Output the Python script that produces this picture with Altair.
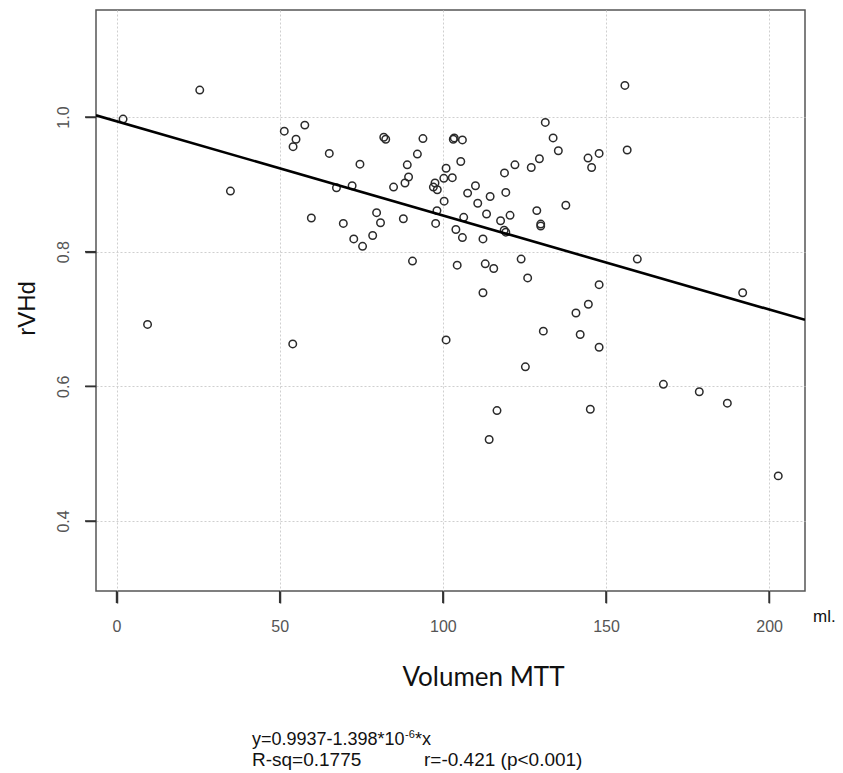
import altair as alt
import pandas as pd

# ---- data ----
vol = [2.0, 25.5, 34.9, 9.5, 51.4, 57.7, 55.0, 54.1, 65.2, 74.6,
       67.4, 72.2, 59.7, 69.5, 79.7, 80.9, 72.7, 75.4, 78.5, 81.9,
       82.5, 84.9, 87.9, 88.4, 89.5, 89.1, 90.7, 93.9, 92.2, 54.0,
       155.8, 131.4, 133.8, 135.4, 129.6, 127.1, 122.1, 118.9, 144.5, 145.6,
       147.9, 156.5, 103.2, 103.5, 106.0, 105.5, 101.0, 100.3, 102.9, 97.6,
       97.1, 98.3, 110.0, 107.6, 110.7, 114.5, 119.3, 100.4, 98.2, 97.8,
       106.4, 113.4, 120.6, 117.7, 118.8, 119.3, 104.0, 106.0, 112.3, 128.8,
       130.0, 130.0, 137.7, 159.6, 191.9, 104.4, 113.0, 115.6, 124.0, 126.0,
       112.3, 147.9, 144.6, 140.8, 130.8, 142.1, 101.0, 147.9, 125.3, 167.6,
       178.6, 187.2, 116.6, 145.2, 114.2, 202.8]
rvhd = [0.997, 1.040, 0.890, 0.692, 0.979, 0.988, 0.967, 0.956, 0.946, 0.930,
        0.895, 0.898, 0.850, 0.842, 0.858, 0.843, 0.819, 0.808, 0.824, 0.970,
        0.967, 0.896, 0.849, 0.902, 0.911, 0.929, 0.786, 0.968, 0.945, 0.663,
        1.047, 0.992, 0.969, 0.950, 0.938, 0.925, 0.929, 0.917, 0.939, 0.925,
        0.946, 0.951, 0.967, 0.969, 0.966, 0.934, 0.924, 0.909, 0.910, 0.902,
        0.896, 0.892, 0.898, 0.887, 0.872, 0.882, 0.888, 0.875, 0.861, 0.842,
        0.851, 0.856, 0.854, 0.846, 0.832, 0.829, 0.833, 0.821, 0.819, 0.861,
        0.841, 0.838, 0.869, 0.789, 0.739, 0.780, 0.782, 0.775, 0.789, 0.761,
        0.739, 0.751, 0.722, 0.709, 0.682, 0.677, 0.669, 0.658, 0.629, 0.603,
        0.592, 0.575, 0.564, 0.566, 0.521, 0.467]

X_DOMAIN = [-6.3, 211.0]
Y_DOMAIN = [0.296, 1.159]
X_TICKS = [0, 50, 100, 150, 200]
Y_TICKS = [0.4, 0.6, 0.8, 1.0]
INTERCEPT = 0.9937
SLOPE = -0.001398

X_TITLE = "Volumen MTT"
Y_TITLE = "rVHd"
UNIT_LABEL = ["ml."]
EQ_MAIN = ["y=0.9937-1.398*10"]
EQ_EXP = ["-6"]
EQ_TAIL = ["*x"]
RSQ_LINE = ["R-sq=0.1775"]
R_LINE = ["r=-0.421 (p<0.001)"]

W, H = 709, 581
XTICK_LEN, YTICK_LEN = 12, 11

pts = pd.DataFrame({"vol": vol, "rvhd": rvhd})
line_df = pd.DataFrame({"vol": X_DOMAIN})

xscale = alt.Scale(domain=X_DOMAIN, nice=False, zero=False)
yscale = alt.Scale(domain=Y_DOMAIN, nice=False, zero=False)

xaxis = alt.Axis(
    values=X_TICKS, title=X_TITLE,
    titleFont="Lato", titleFontSize=26, titleFontWeight="normal", titleColor="#111",
    titleX=387, titleY=94, titleAlign="center", titleBaseline="alphabetic",
    labelFont="Liberation Sans", labelFontSize=16, labelColor="#555",
    labelPadding=15, labelFlush=False, labelOverlap=False,
    ticks=True, tickSize=XTICK_LEN, tickColor="#333", tickWidth=1.5,
    domain=False, grid=True, gridColor="#cfcfcf", gridDash=[2, 2], gridWidth=1,
)
yaxis = alt.Axis(
    values=Y_TICKS, format=".1f", title=Y_TITLE,
    titleFont="Liberation Sans", titleFontSize=24, titleFontWeight="normal", titleColor="#111",
    titleAngle=270, titleX=-62, titleY=298, titleAlign="center", titleBaseline="alphabetic",
    labelFont="Liberation Sans", labelFontSize=16, labelColor="#555",
    labelAngle=270, labelAlign="center", labelBaseline="bottom",
    labelPadding=14, labelFlush=False, labelOverlap=False,
    ticks=True, tickSize=YTICK_LEN, tickColor="#333", tickWidth=1.5,
    domain=False, grid=True, gridColor="#cfcfcf", gridDash=[2, 2], gridWidth=1,
)

points = alt.Chart(pts).mark_point(
    shape="circle", filled=False, size=56, strokeWidth=1.5, color="#2a2a2a", opacity=1
).encode(
    x=alt.X("vol:Q", scale=xscale, axis=xaxis),
    y=alt.Y("rvhd:Q", scale=yscale, axis=yaxis),
)

reg = alt.Chart(line_df).transform_calculate(
    rvhd=f"{INTERCEPT} + ({SLOPE}) * datum.vol"
).mark_line(color="black", strokeWidth=2.6, clip=True).encode(
    x=alt.X("vol:Q", scale=xscale),
    y=alt.Y("rvhd:Q", scale=yscale),
)

# explicit tick marks (R-style, outside the frame)
xticks = alt.Chart(pd.DataFrame({"vol": X_TICKS})).mark_rule(
    color="#333", strokeWidth=1.5
).encode(
    x=alt.X("vol:Q", scale=xscale),
    y=alt.value(H), y2=alt.value(H + XTICK_LEN),
)
yticks = alt.Chart(pd.DataFrame({"rvhd": Y_TICKS})).mark_rule(
    color="#333", strokeWidth=1.5
).encode(
    y=alt.Y("rvhd:Q", scale=yscale),
    x=alt.value(-YTICK_LEN), x2=alt.value(0),
)

def label(values, xpx, ypx, size, font="Liberation Sans", color="#111"):
    return alt.Chart(pd.DataFrame({"t": values})).mark_text(
        align="left", baseline="alphabetic", font=font, fontSize=size, color=color
    ).encode(x=alt.value(xpx), y=alt.value(ypx), text="t:N")

unit = label(UNIT_LABEL, 717, 612, 17)
eq1 = label(EQ_MAIN, 156, 735, 18)
eq2 = label(EQ_EXP, 309, 728, 11)
eq3 = label(EQ_TAIL, 319, 735, 18)
rsq = label(RSQ_LINE, 156, 756, 19)
rr = label(R_LINE, 328, 756, 19)

chart = alt.layer(points, reg, xticks, yticks, unit, eq1, eq2, eq3, rsq, rr).properties(
    width=W, height=H,
    autosize=alt.AutoSizeParams(type="none"),
    padding={"left": 88, "top": 2, "right": 30, "bottom": 180},
).configure_view(stroke="#555", strokeWidth=1.5)

chart.save("out.html", embed_options={"renderer": "svg", "actions": False})
